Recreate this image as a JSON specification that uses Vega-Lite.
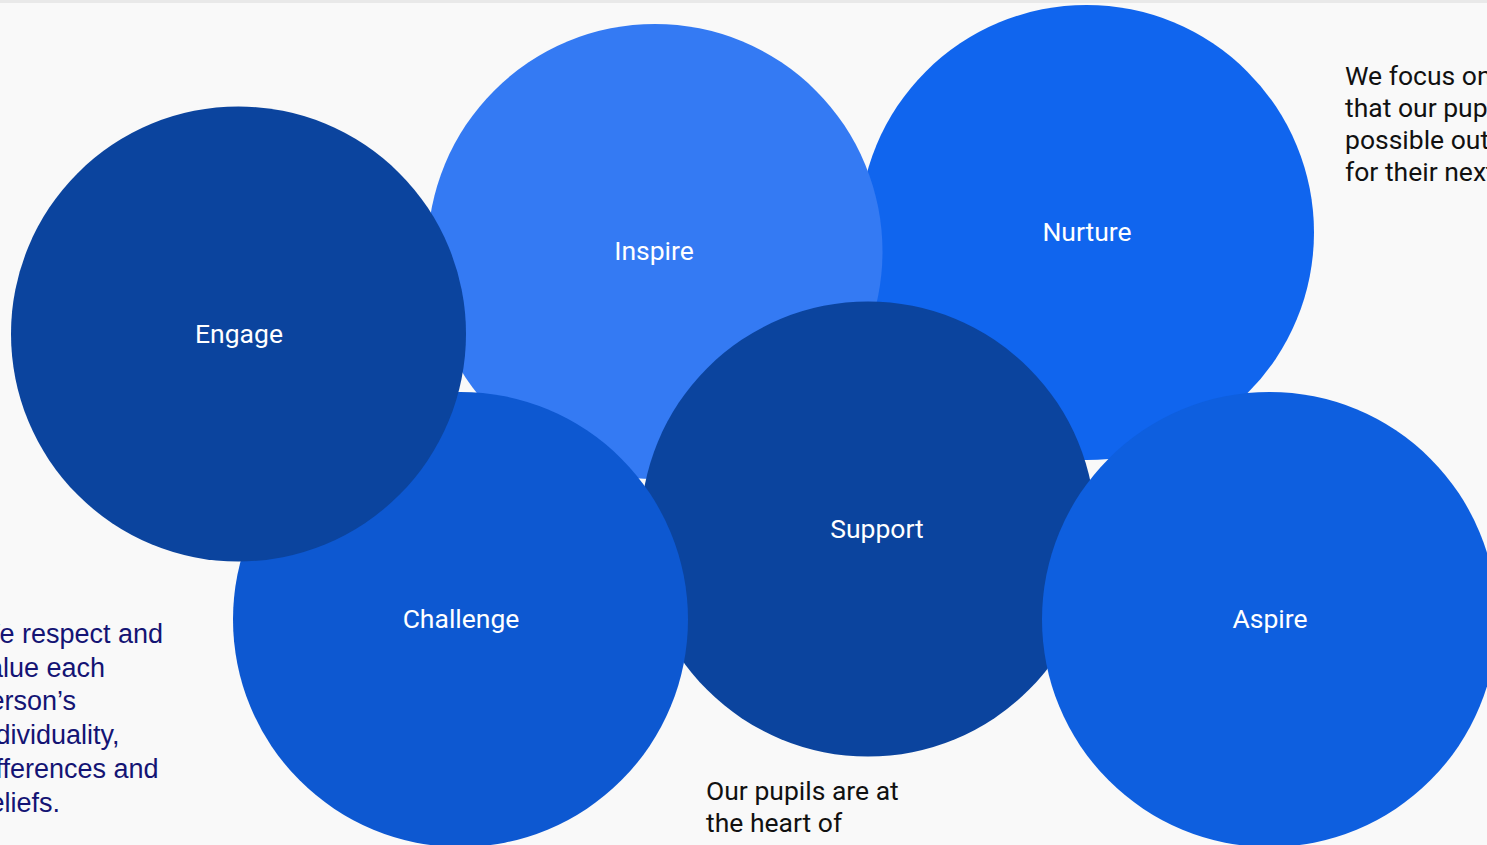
{
  "$schema": "https://vega.github.io/schema/vega-lite/v6.json",
  "width": 1487,
  "height": 845,
  "autosize": {"type": "none"},
  "padding": 0,
  "background": "#f9f9f9",
  "config": {"view": {"stroke": null}},
  "datasets": {
    "circles": [
      {"name": "Nurture", "cx": 1086.5, "cy": 232.5, "lx": 1087, "ly": 233},
      {"name": "Inspire", "cx": 655, "cy": 251.5, "lx": 654, "ly": 252},
      {"name": "Support", "cx": 868, "cy": 529, "lx": 877, "ly": 530},
      {"name": "Challenge", "cx": 460.5, "cy": 619.5, "lx": 461, "ly": 620},
      {"name": "Engage", "cx": 238.5, "cy": 334, "lx": 239, "ly": 335},
      {"name": "Aspire", "cx": 1269.5, "cy": 619.5, "lx": 1270, "ly": 620}
    ],
    "black_text": [
      {"text": "We focus on ensuring", "x": 1345, "y": 85},
      {"text": "that our pupils achieve the best", "x": 1345, "y": 117},
      {"text": "possible outcomes to prepare them", "x": 1345, "y": 149},
      {"text": "for their next steps.", "x": 1345, "y": 181},
      {"text": "Our pupils are at", "x": 706, "y": 800},
      {"text": "the heart of", "x": 706, "y": 832}
    ],
    "navy_text": [
      {"text": "We respect and", "x": -25.5, "y": 643},
      {"text": "value each", "x": -25.5, "y": 676.7},
      {"text": "person’s", "x": -25.5, "y": 710.4},
      {"text": "individuality,", "x": -25.5, "y": 744},
      {"text": "differences and", "x": -25.5, "y": 777.8},
      {"text": "beliefs.", "x": -25.5, "y": 811.5}
    ],
    "edge": [{"y": 1}]
  },
  "layer": [
    {
      "data": {"name": "edge"},
      "mark": {"type": "rule", "stroke": "#e9e9e9", "strokeWidth": 4, "clip": true},
      "encoding": {
        "y": {"field": "y", "type": "quantitative", "scale": {"domain": [0, 845], "reverse": true, "nice": false, "zero": false}, "axis": null}
      }
    },
    {
      "data": {"name": "circles"},
      "mark": {"type": "point", "shape": "circle", "filled": true, "size": 207025, "opacity": 1, "strokeWidth": 0, "clip": true},
      "encoding": {
        "x": {"field": "cx", "type": "quantitative", "scale": {"domain": [0, 1487], "nice": false, "zero": false}, "axis": null},
        "y": {"field": "cy", "type": "quantitative", "scale": {"domain": [0, 845], "reverse": true, "nice": false, "zero": false}, "axis": null},
        "color": {
          "field": "name", "type": "nominal", "legend": null,
          "scale": {
            "domain": ["Nurture", "Inspire", "Support", "Challenge", "Engage", "Aspire"],
            "range": ["#1065ee", "#347af3", "#0b449e", "#0d58d1", "#0b449e", "#0e5fdf"]
          }
        }
      }
    },
    {
      "data": {"name": "circles"},
      "mark": {"type": "text", "font": "Roboto", "fontSize": 26.5, "color": "#ffffff", "align": "center", "baseline": "middle", "clip": true},
      "encoding": {
        "x": {"field": "lx", "type": "quantitative"},
        "y": {"field": "ly", "type": "quantitative"},
        "text": {"field": "name"}
      }
    },
    {
      "data": {"name": "black_text"},
      "mark": {"type": "text", "font": "Roboto", "fontSize": 26.5, "color": "#111111", "align": "left", "baseline": "alphabetic", "clip": true},
      "encoding": {
        "x": {"field": "x", "type": "quantitative"},
        "y": {"field": "y", "type": "quantitative"},
        "text": {"field": "text"}
      }
    },
    {
      "data": {"name": "navy_text"},
      "mark": {"type": "text", "font": "Liberation Sans", "fontSize": 27, "color": "#141474", "align": "left", "baseline": "alphabetic", "clip": true},
      "encoding": {
        "x": {"field": "x", "type": "quantitative"},
        "y": {"field": "y", "type": "quantitative"},
        "text": {"field": "text"}
      }
    }
  ]
}
